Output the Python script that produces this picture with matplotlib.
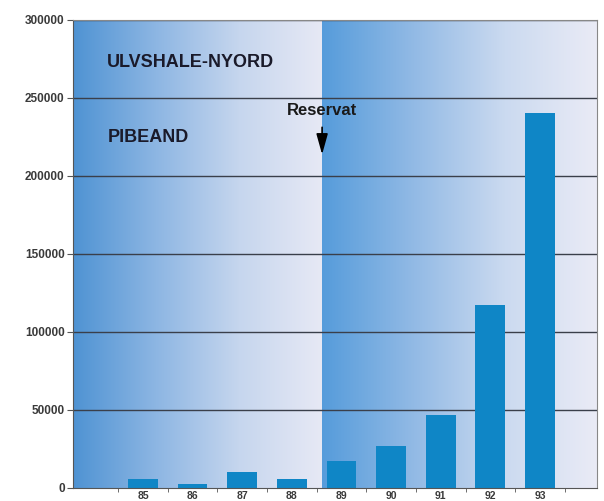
import matplotlib
matplotlib.use("Agg")
import matplotlib.pyplot as plt
import numpy as np
from matplotlib.colors import LinearSegmentedColormap

plt.rcParams["font.family"] = ["Liberation Sans", "DejaVu Sans"]

years = ["85", "86", "87", "88", "89", "90", "91", "92", "93"]
values = [5500, 2500, 10000, 5500, 17500, 27000, 47000, 117000, 240500]
yticks = [0, 50000, 100000, 150000, 200000, 250000, 300000]

fig = plt.figure(figsize=(6.04, 5.01), dpi=100)
ax = fig.add_axes([73/604, 1-488/501, (597-73)/604, (488-20)/501])

x = np.arange(len(years))
xmin, xmax = -1.41, 9.15
split = 3.61

cmap = LinearSegmentedColormap.from_list("g", ["#4f93d3", "#8db6e3", "#c6d6ee", "#e7e9f5"])
grad = np.linspace(0, 1, 256).reshape(1, -1)
ax.imshow(grad, extent=[xmin, split, 0, 300000], aspect="auto", cmap=cmap, zorder=0)
cmap2 = LinearSegmentedColormap.from_list("g2", ["#569cdb", "#92bae5", "#cbdaf0", "#eaebf6"])
ax.imshow(grad, extent=[split, xmax, 0, 300000], aspect="auto", cmap=cmap2, zorder=0)

for yv in yticks[1:]:
    ax.axhline(yv, color="#3a3f4a", lw=1.0, zorder=1)

ax.bar(x, values, width=0.6, color="#0f86c6", zorder=2)

ax.set_xlim(xmin, xmax)
ax.set_ylim(0, 300000)
ax.set_yticks(yticks)
ax.set_yticklabels([str(v) for v in yticks], fontsize=8.5, color="#3a3a3a", fontweight="bold")
ax.set_xticks(x)
ax.set_xticklabels(years, fontsize=7.5, color="#3a3a3a", fontweight="bold")
ax.tick_params(axis="x", length=0, pad=2)
ax.set_xticks(np.arange(-0.5, 8.6, 1.0), minor=True)
ax.tick_params(axis="x", which="minor", length=3, color="#555555")
ax.tick_params(axis="y", length=4, color="#555555", pad=2)

for s in ["top", "right"]:
    ax.spines[s].set_color("#888888")
    ax.spines[s].set_linewidth(0.8)
ax.spines["left"].set_color("#555555")
ax.spines["bottom"].set_color("#555555")

ax.text(-0.73, 273000, "ULVSHALE-NYORD", fontsize=13, fontweight="bold", color="#1a1a2a", va="center", ha="left")
ax.text(-0.71, 224700, "PIBEAND", fontsize=13, fontweight="bold", color="#1a1a2a", va="center", ha="left")
ax.text(split, 242300, "Reservat", fontsize=12, fontweight="bold", color="#1a1a1a", va="center", ha="center")
ax.annotate("", xy=(split, 212000), xytext=(split, 233000),
            arrowprops=dict(arrowstyle="-|>,head_length=0.9,head_width=0.25", color="black", lw=1.2, mutation_scale=14))

fig.savefig("out.png", dpi=100)
